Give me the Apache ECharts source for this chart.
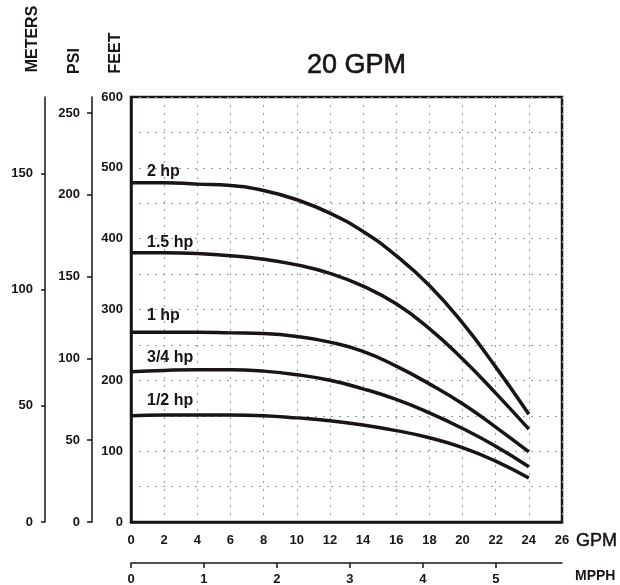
<!DOCTYPE html>
<html><head><meta charset="utf-8">
<script src="https://cdn.jsdelivr.net/npm/echarts@6/dist/echarts.min.js"></script>
<style>html,body{margin:0;padding:0;background:#fff}#c{width:620px;height:585px}</style>
</head><body><div id="c"></div>
<script>
// ---- data ----
const gpm      = [0, 2, 4, 6, 8, 10, 12, 14, 16, 18, 20, 22, 24];
const hp2      = [479, 479, 477, 475, 468, 455, 436, 410, 376, 334, 281, 219, 152];
const hp15     = [380, 380, 379, 376, 371, 363, 351, 333, 308, 273, 230, 182, 131];
const hp1      = [268, 268, 268, 267, 266, 262, 254, 241, 220, 195, 167, 134, 99];
const hp34     = [212, 214, 215, 215, 213, 208, 200, 188, 173, 154, 132, 107, 78];
const hp12     = [150, 151, 151, 151, 150, 147, 143, 137, 129, 119, 105, 86, 62];
const curveNames = ['2 hp', '1.5 hp', '1 hp', '3/4 hp', '1/2 hp'];
const feetTicks  = [0, 100, 200, 300, 400, 500, 600];
const psiTicks   = [0, 50, 100, 150, 200, 250];
const meterTicks = [0, 50, 100, 150];
const mpphTicks  = [0, 1, 2, 3, 4, 5];
const FT_PER_PSI = 2.31, FT_PER_M = 3.2808, GPM_PER_M3H = 4.4029;

// ---- style ----
const FONT = 'Liberation Sans, Arial, sans-serif';
const INK = '#1a1414';
const labelStyle = { color: INK, fontFamily: FONT, fontWeight: 'bold', fontSize: 13 };
const gridLine = { show: true, lineStyle: { color: '#9a9a9a', width: 1, type: [2, 6] } };
const labelDy = [-11, -10, -17, -14, -15];

const curves = [hp2, hp15, hp1, hp34, hp12];
const chart = echarts.init(document.getElementById('c'), null, { renderer: 'canvas' });
chart.setOption({
  animation: false,
  backgroundColor: '#fff',
  title: { text: '20 GPM', left: 302, top: 47,
    textStyle: { color: INK, fontFamily: FONT, fontSize: 27, fontWeight: 'normal',
      textBorderColor: INK, textBorderWidth: 0.6 } },
  grid: { left: 131, right: 58, top: 97, bottom: 63, containLabel: false, outerBoundsMode: 'none',
    show: true, borderColor: INK, borderWidth: 2.5, backgroundColor: 'transparent' },
  xAxis: [
    { type: 'value', min: 0, max: 26, interval: 2, position: 'bottom',
      axisLine: { show: true, onZero: false, lineStyle: { color: INK, width: 2.5 } },
      axisTick: { show: false },
      axisLabel: Object.assign({ margin: 12 }, labelStyle),
      splitLine: gridLine },
    { type: 'value', min: 0, max: 26 / GPM_PER_M3H, position: 'bottom', offset: 41,
      axisLine: { show: true, onZero: false, lineStyle: { color: INK, width: 1.5 } },
      axisTick: { show: true, customValues: mpphTicks, length: 5, lineStyle: { color: INK, width: 1.5 } },
      axisLabel: Object.assign({ margin: 10, customValues: mpphTicks }, labelStyle),
      splitLine: { show: false } }
  ],
  yAxis: [
    { type: 'value', min: 0, max: 600, interval: 50, position: 'left',
      axisLine: { show: true, onZero: false, lineStyle: { color: INK, width: 2.5 } },
      axisTick: { show: false },
      axisLabel: Object.assign({ margin: 8, customValues: feetTicks }, labelStyle),
      splitLine: gridLine },
    { type: 'value', min: 0, max: 600 / FT_PER_PSI, position: 'left', offset: 39,
      axisLine: { show: true, onZero: false, lineStyle: { color: INK, width: 1.5 } },
      axisTick: { show: true, customValues: psiTicks, length: 5, lineStyle: { color: INK, width: 1.5 } },
      axisLabel: Object.assign({ margin: 12, customValues: psiTicks }, labelStyle),
      splitLine: { show: false } },
    { type: 'value', min: 0, max: 600 / FT_PER_M, position: 'left', offset: 86,
      axisLine: { show: true, onZero: false, lineStyle: { color: INK, width: 1.5 } },
      axisTick: { show: true, customValues: meterTicks, length: 4, lineStyle: { color: INK, width: 1.5 } },
      axisLabel: Object.assign({ margin: 12, customValues: meterTicks }, labelStyle),
      splitLine: { show: false } }
  ],
  graphic: [
    { type: 'text', x: 33, y: 39, rotation: Math.PI / 2,
      style: { text: 'METERS', fill: INK, font: 'bold 16px ' + FONT, align: 'center', verticalAlign: 'middle' } },
    { type: 'text', x: 75, y: 61, rotation: Math.PI / 2,
      style: { text: 'PSI', fill: INK, font: 'bold 16px ' + FONT, align: 'center', verticalAlign: 'middle' } },
    { type: 'text', x: 116, y: 53, rotation: Math.PI / 2,
      style: { text: 'FEET', fill: INK, font: 'bold 16px ' + FONT, align: 'center', verticalAlign: 'middle' } },
    { type: 'text', x: 576, y: 541,
      style: { text: 'GPM', fill: INK, font: '18px ' + FONT, align: 'left', verticalAlign: 'middle',
        stroke: INK, lineWidth: 0.5 } },
    { type: 'text', x: 575, y: 576,
      style: { text: 'MPPH', fill: INK, font: 'bold 14px ' + FONT, align: 'left', verticalAlign: 'middle' } }
  ],
  series: curves.map((arr, k) => ({
    type: 'line', name: curveNames[k], xAxisIndex: 0, yAxisIndex: 0,
    smooth: 0.5, symbol: 'none',
    lineStyle: { color: INK, width: 3.5 },
    data: gpm.map((g, i) => [g, arr[i]]),
    markPoint: {
      silent: true, symbol: 'circle', symbolSize: 0,
      data: [{ coord: [gpm[0], arr[0]], name: curveNames[k] }],
      label: { show: true, formatter: curveNames[k], position: [16, labelDy[k]],
        align: 'left', verticalAlign: 'middle',
        color: INK, fontFamily: FONT, fontWeight: 'bold', fontSize: 16 }
    }
  }))
});
</script>
</body></html>
